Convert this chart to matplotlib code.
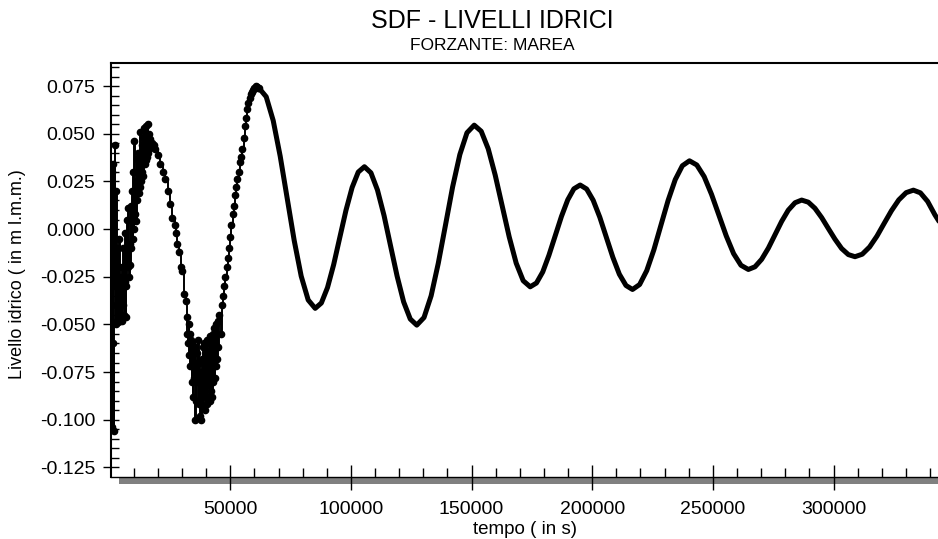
import numpy as np
import matplotlib
matplotlib.use("Agg")
import matplotlib.pyplot as plt
from matplotlib.ticker import MultipleLocator, FormatStrFormatter
from matplotlib.patches import Rectangle

plt.rcParams['font.family'] = ['Liberation Sans', 'DejaVu Sans']
plt.rcParams['axes.unicode_minus'] = False

# --- dati: prima parte (rumorosa) ---
t_noisy = [600, 800, 1000, 1200, 1400, 1600, 1800, 2000, 2200, 2400, 2600, 2800,
           3000, 3200, 3400, 3600, 3800, 4000, 4200, 4400, 4600, 4800,
           5000, 5250, 5500, 5750, 6000, 6250, 6500, 6750, 7000, 7250, 7500, 7750,
           8000, 8250, 8500, 8750, 9000, 9250, 9500, 9750, 10000, 10250, 10500, 10750,
           11000, 11250, 11500, 11750, 12000, 12250, 12500, 12750, 13000, 13250,
           13500, 13750, 14000, 14250, 14500, 14750, 15000, 15250, 15500, 15750,
           16000, 16250, 16500, 16750, 17000, 17500, 18200,
           19000, 20000, 21000, 22000, 23000, 24000, 25000, 26000, 27000, 27500,
           28000, 28800, 29400, 30000, 30700, 31500, 32000,
           32250, 32500, 32750, 33000, 33250, 33500, 33750, 34000, 34250, 34500,
           34750, 35000, 35250, 35500, 35750, 36000, 36250, 36500, 36750, 37000,
           37250, 37500, 37750, 38000, 38250, 38500, 38750, 39000, 39250, 39500,
           39750, 40000, 40250, 40500, 40750, 41000, 41250, 41500, 41750, 42000,
           42250, 42500, 42750, 43000, 43250, 43500, 43750, 44000, 44250, 44500,
           44750, 45000, 45500, 46000, 46500,
           47000, 47500, 48000, 48500, 49000, 49500, 50000, 50500, 51000, 51500,
           52000, 52500, 53000, 53500, 54000, 54500, 55000, 55500, 56000, 56500,
           57000, 57500, 58000, 58500, 59000, 59500, 60000, 60500, 61000, 61500, 62000]
v_noisy = [-0.020, 0.030, -0.104, -0.040, 0.034, -0.060, -0.106, -0.010, 0.044, -0.030,
           -0.050, 0.020, -0.048, -0.010, -0.049, -0.020, -0.045, -0.005, -0.035, -0.048,
           -0.025, -0.040,
           -0.048, -0.020, -0.040, -0.010, -0.045, -0.028, -0.002, -0.046, -0.030, 0.005,
           -0.020, 0.011, -0.025, -0.008, -0.019, 0.012, -0.010, 0.020, -0.005, 0.030,
           0.000, 0.046, 0.008, 0.025, 0.004, 0.037, 0.015, 0.040, 0.019, 0.034,
           0.022, 0.051, 0.025, 0.044, 0.030, 0.048, 0.028, 0.053, 0.034, 0.048,
           0.036, 0.054, 0.038, 0.055, 0.040, 0.050, 0.042, 0.047, 0.044, 0.045, 0.044,
           0.042, 0.039, 0.034, 0.030, 0.026, 0.020, 0.013, 0.006, 0.002, -0.002,
           -0.008, -0.012, -0.020, -0.022, -0.034, -0.038, -0.046,
           -0.055, -0.060, -0.050, -0.066, -0.055, -0.072, -0.058, -0.080, -0.060, -0.088,
           -0.065, -0.078, -0.062, -0.100, -0.070, -0.090, -0.065, -0.080, -0.058, -0.092,
           -0.070, -0.098, -0.075, -0.100, -0.068, -0.094, -0.062, -0.085, -0.060, -0.095,
           -0.066, -0.088, -0.058, -0.092, -0.064, -0.082, -0.060, -0.090, -0.056, -0.085,
           -0.062, -0.088, -0.055, -0.080, -0.052, -0.078, -0.060, -0.072, -0.050, -0.068,
           -0.048, -0.062, -0.045, -0.055, -0.040,
           -0.035, -0.030, -0.025, -0.020, -0.015, -0.010, -0.004, 0.002, 0.008, 0.012,
           0.018, 0.022, 0.026, 0.030, 0.035, 0.038, 0.042, 0.048, 0.054, 0.058,
           0.063, 0.066, 0.069, 0.071, 0.072, 0.073, 0.074, 0.075, 0.0745, 0.074, 0.0738]

# --- seconda parte (regolare) ---
t_smooth = [62000, 64900, 67800, 70700, 73600, 76500, 79400, 82300,
            85200, 87750, 90300, 92850, 95400, 97950, 100500, 103050,
            105600, 108300, 111000, 113750, 116450, 119150, 121850, 124600,
            127300, 130300, 133250, 136200, 139200, 142150, 145150, 148100,
            151100, 154000, 156900, 159800, 162700, 165600, 168500, 171400,
            174300, 176900, 179500, 182050, 184650, 187250, 189850, 192400,
            195000, 197700, 200400, 203150, 205850, 208550, 211250, 214000,
            216700, 219650, 222600, 225550, 228500, 231450, 234400, 237350,
            240300, 243350, 246400, 249450, 252500, 255550, 258600, 261650,
            264700, 267450, 270200, 273000, 275750, 278500, 281250, 284050,
            286800, 289550, 292300, 295100, 297850, 300600, 303350, 306150,
            308900, 311900, 314950, 318000, 321000, 324000, 327050, 330100,
            333100, 336000, 339000, 342000, 344500]
v_smooth = [0.0738, 0.0694, 0.0569, 0.0382, 0.0161, -0.0060, -0.0247, -0.0372,
            -0.0416, -0.0388, -0.0307, -0.0187, -0.0044, 0.0098, 0.0218, 0.0299,
            0.0327, 0.0295, 0.0205, 0.0070, -0.0089, -0.0247, -0.0382, -0.0472,
            -0.0504, -0.0464, -0.0350, -0.0180, 0.0021, 0.0221, 0.0391, 0.0505,
            0.0545, 0.0513, 0.0421, 0.0283, 0.0121, -0.0041, -0.0179, -0.0271,
            -0.0303, -0.0283, -0.0225, -0.0138, -0.0036, 0.0066, 0.0153, 0.0211,
            0.0231, 0.0210, 0.0151, 0.0062, -0.0043, -0.0148, -0.0237, -0.0296,
            -0.0317, -0.0291, -0.0218, -0.0109, 0.0021, 0.0150, 0.0259, 0.0332,
            0.0358, 0.0336, 0.0275, 0.0182, 0.0073, -0.0036, -0.0129, -0.0190,
            -0.0212, -0.0198, -0.0159, -0.0100, -0.0030, 0.0040, 0.0099, 0.0138,
            0.0152, 0.0141, 0.0109, 0.0060, 0.0003, -0.0053, -0.0102, -0.0134,
            -0.0145, -0.0132, -0.0094, -0.0037, 0.0030, 0.0096, 0.0153, 0.0191,
            0.0204, 0.0190, 0.0145, 0.0075, 0.0025]

fig = plt.figure(figsize=(9.38, 5.39), dpi=100)
ax = fig.add_axes([111/938, 1 - 476.7/539, 1 - 111/938, (476.7 - 63)/539])

ax.plot(t_noisy, v_noisy, color="black", lw=1.4, marker="o", ms=4.5,
        drawstyle="steps-post", zorder=3)
ax.plot(t_smooth, v_smooth, color="black", lw=3.6, solid_capstyle="round",
        solid_joinstyle="round", zorder=3)

ax.set_xlim(580, 343300)
ax.set_ylim(-0.1299, 0.0871)

ax.xaxis.set_major_locator(MultipleLocator(50000))
ax.xaxis.set_minor_locator(MultipleLocator(10000))
ax.yaxis.set_major_locator(MultipleLocator(0.025))
ax.yaxis.set_minor_locator(MultipleLocator(0.005))
ax.yaxis.set_major_formatter(FormatStrFormatter('%.3f'))

ax.tick_params(axis="x", which="major", direction="inout", length=18, width=1,
               labelsize=14, pad=8.5)
ax.tick_params(axis="x", which="minor", direction="in", length=6.8, width=1)
ax.tick_params(axis="y", which="major", direction="inout", length=12, width=1,
               labelsize=14, pad=5.5)
ax.tick_params(axis="y", which="minor", direction="in", length=5.5, width=1)

ax.spines["right"].set_visible(False)
ax.spines["top"].set_linewidth(1.5)
ax.spines["left"].set_linewidth(1.5)
ax.spines["bottom"].set_linewidth(1.0)

# barra grigia sotto l'asse x
ax.add_patch(Rectangle((0.0092, -0.0185), 1.0, 0.0165, transform=ax.transAxes,
                       facecolor="#808080", edgecolor="none", clip_on=False, zorder=1))

ax.set_xlabel("tempo ( in s)", fontsize=13.5, labelpad=2)
fig.text(18/938, 1 - 274/539, "Livello idrico ( in m l.m.m.)", rotation=90,
         ha="center", va="center", fontsize=13)

fig.text(492/938, 1 - 21/539, "SDF - LIVELLI IDRICI", ha="center", va="center", fontsize=18)
fig.text(492/938, 1 - 45/539, "FORZANTE: MAREA", ha="center", va="center", fontsize=12.5)

fig.savefig("out.png", dpi=100)
